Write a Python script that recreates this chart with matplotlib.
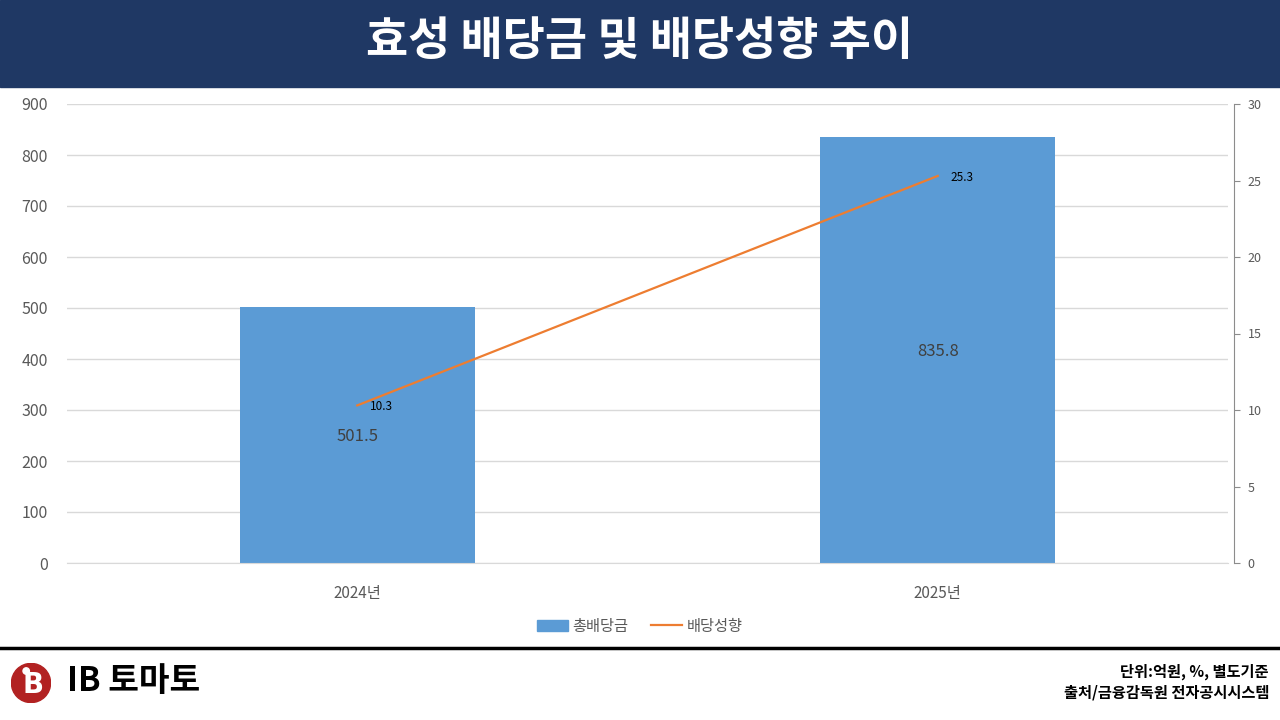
import matplotlib
matplotlib.use("Agg")
import matplotlib.pyplot as plt
from matplotlib.patches import Rectangle, Circle
from matplotlib.lines import Line2D

plt.rcParams['font.family'] = ['Noto Sans CJK KR', 'DejaVu Sans']

# data
years = ['2024년', '2025년']
total_dividend = [501.5, 835.8]   # 억원
payout_ratio = [10.3, 25.3]       # %

title = '효성 배당금 및 배당성향 추이'
note1 = '단위:억원, %, 별도기준'
note2 = '출처/금융감독원 전자공시시스템'

bar_color = '#5B9BD5'
line_color = '#ED7D31'
navy = '#1F3864'
gray = '#595959'

fig = plt.figure(figsize=(12.8, 7.2), dpi=100)

# title band
fig.patches.append(Rectangle((0, 1 - 87 / 720), 1, 87 / 720, transform=fig.transFigure,
                             color=navy, zorder=0))
fig.text(0.5, 1 - 42 / 720, title, color='white', fontsize=33, fontweight='bold',
         ha='center', va='center')

ax = fig.add_axes([67 / 1280, 1 - 563 / 720, 1161 / 1280, 459 / 720])
x = range(len(years))
ax.bar(x, total_dividend, width=0.405, color=bar_color, zorder=2)
ax.set_xlim(-0.5, 1.5)
ax.set_ylim(0, 900)
ax.set_yticks(range(0, 901, 100))
ax.grid(axis='y', color='#D9D9D9', linewidth=1, zorder=0)
ax.set_axisbelow(True)
for s in ['top', 'right', 'left']:
    ax.spines[s].set_visible(False)
ax.spines['bottom'].set_color('#D9D9D9')
ax.tick_params(axis='y', length=0, labelsize=11.5, labelcolor=gray, pad=14)
ax.tick_params(axis='x', length=0, labelsize=11, labelcolor=gray, pad=16)
ax.set_xticks(list(x))
ax.set_xticklabels(years)

for i, v in enumerate(total_dividend):
    ax.text(i, v / 2 - 3, f'{v}', ha='center', va='center', fontsize=12, color='#404040', zorder=4)

ax2 = ax.twinx()
ax2.plot(list(x), payout_ratio, color=line_color, linewidth=1.6, zorder=3)
ax2.set_ylim(0, 30)
ax2.set_yticks(range(0, 31, 5))
for s in ['top', 'left', 'bottom']:
    ax2.spines[s].set_visible(False)
ax2.spines['right'].set_color('#8C8C8C')
ax2.spines['right'].set_position(('outward', 4))
ax2.tick_params(axis='y', length=4, color='#8C8C8C', labelsize=9, labelcolor=gray, pad=6)
for i, v in enumerate(payout_ratio):
    ax2.annotate(f'{v}', (i, v), xytext=(9, -1), textcoords='offset points',
                 ha='left', va='center', fontsize=8.5, color='black')

# legend
handles = [Rectangle((0, 0), 1, 1, color=bar_color),
           Line2D([0], [0], color=line_color, linewidth=1.6)]
fig.legend(handles, ['총배당금', '배당성향'], loc='center', bbox_to_anchor=(0.5, 1 - 626 / 720),
           ncol=2, frameon=False, fontsize=11, labelcolor=gray, handlelength=2.0,
           handletextpad=0.3, columnspacing=1.5)

# bottom rule
fig.add_artist(Line2D([0, 1], [1 - 648 / 720] * 2, transform=fig.transFigure,
                      color='black', linewidth=2.5))

# logo
logo_ax = fig.add_axes([11 / 1280, 1 - 708 / 720, 40 / 1280, 50 / 720])
logo_ax.set_aspect('equal')
logo_ax.add_patch(Circle((0.5, 0.5), 0.49, color='#B22222'))
logo_ax.text(0.56, 0.44, 'B', color='white', fontsize=20, fontweight='bold',
             ha='center', va='center', family='DejaVu Sans')
logo_ax.add_patch(Circle((0.38, 0.8), 0.08, color='white'))
logo_ax.set_xlim(0, 1)
logo_ax.set_ylim(0, 1)
logo_ax.axis('off')
fig.text(67 / 1280, 1 - 682 / 720, 'IB 토마토', fontsize=24, fontweight='black',
         color='black', ha='left', va='center')

fig.text(1269 / 1280, 1 - 672 / 720, note1, fontsize=11, fontweight='bold',
         ha='right', va='center')
fig.text(1269 / 1280, 1 - 692 / 720, note2, fontsize=11, fontweight='bold',
         ha='right', va='center')

fig.savefig('out.png', dpi=100)
